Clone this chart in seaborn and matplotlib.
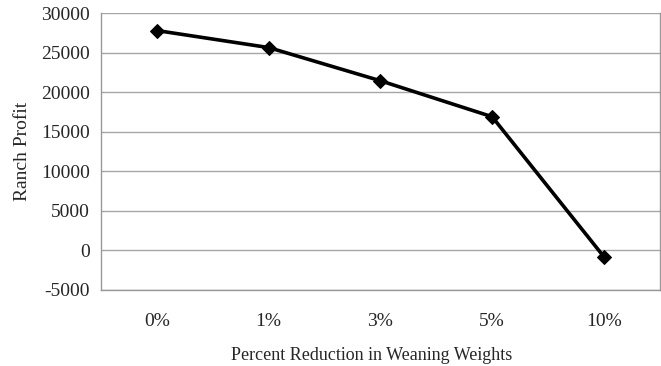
import matplotlib
matplotlib.use("Agg")
import matplotlib.pyplot as plt
import seaborn as sns
import pandas as pd
import numpy as np

categories = ["0%", "1%", "3%", "5%", "10%"]
profit = [27800, 25650, 21450, 16900, -800]
yticks = [-5000, 0, 5000, 10000, 15000, 20000, 25000, 30000]

sns.set_theme(style="white")
plt.rcParams['font.family'] = ['Liberation Serif', 'DejaVu Serif']

df = pd.DataFrame({"cat": categories, "profit": profit, "pos": np.arange(len(categories))})

fig = plt.figure(figsize=(6.61, 3.66), dpi=100)
ax = fig.add_axes([0.153, 0.208, 0.845, 0.756])

sns.lineplot(data=df, x="pos", y="profit", ax=ax, color="black", linewidth=2.6,
             marker="D", markersize=7.5, markeredgecolor="black", sort=False)

fs = 14
ax.set_xlim(-0.5, len(categories) - 0.5)
ax.set_ylim(-5000, 30000)
ax.set_yticks(yticks)
ax.set_yticklabels([str(v) for v in yticks], fontsize=fs)
ax.set_xticks(np.arange(len(categories)))
ax.set_xticklabels(categories, fontsize=fs)
ax.set_xticks(np.arange(len(categories) + 1) - 0.5, minor=True)
ax.tick_params(axis="x", which="major", length=0, pad=17)
ax.tick_params(axis="x", which="minor", length=5, color="#999999", width=1, direction="out")
ax.tick_params(axis="y", length=5, color="#999999", width=1, direction="out", pad=3)

ax.yaxis.grid(True, color="#a6a6a6", linewidth=1)
ax.xaxis.grid(False)
ax.set_axisbelow(True)
ax.spines["top"].set_visible(False)
for s in ["left", "bottom", "right"]:
    ax.spines[s].set_color("#999999")
    ax.spines[s].set_linewidth(1)

ax.set_xlabel("Percent Reduction in Weaning Weights", fontsize=13, labelpad=12)
ax.xaxis.label.set_x(0.485)
ax.set_ylabel("Ranch Profit", fontsize=fs, labelpad=7)

fig.savefig("out.png", dpi=100)
